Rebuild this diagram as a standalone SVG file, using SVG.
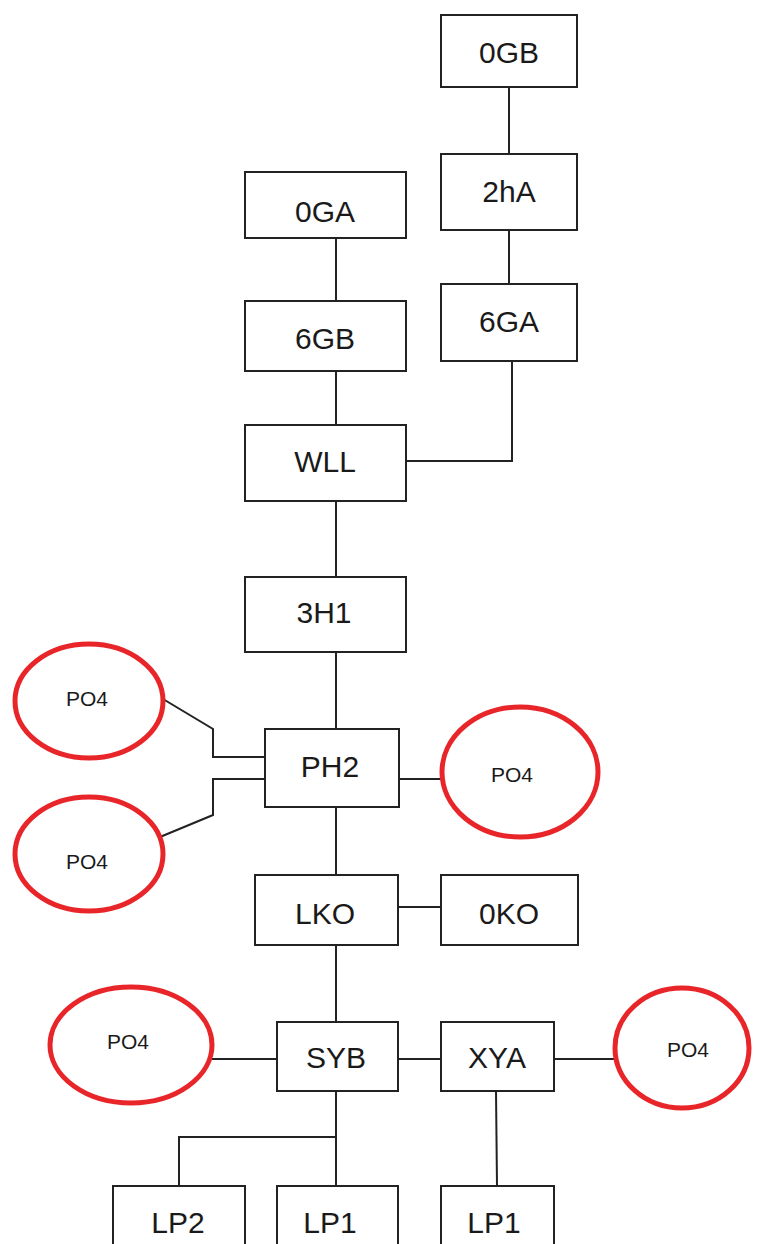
<svg xmlns="http://www.w3.org/2000/svg" width="761" height="1244" viewBox="0 0 761 1244">
<style>
.box{fill:#fff;stroke:#222;stroke-width:2}
.oval{fill:#fff;stroke:#e8262a;stroke-width:5}
.lbl{font-family:"Liberation Sans",Arial,sans-serif;font-size:30px;fill:#1a1a1a;text-anchor:middle}
.sm{font-family:"Liberation Sans",Arial,sans-serif;font-size:21px;fill:#1a1a1a;text-anchor:middle}
.conn{fill:none;stroke:#222;stroke-width:2}
</style>
<rect width="761" height="1244" fill="#fff"/>
<g id="connectors" class="conn">
<path d="M509 87V154"/>
<path d="M509 230V284"/>
<path d="M512 361V461H405"/>
<path d="M336 238V301"/>
<path d="M336 371V425"/>
<path d="M336 501V577"/>
<path d="M336 652V729"/>
<path d="M163 699L213 729V757H265"/>
<path d="M265 779H213V815L160 837"/>
<path d="M399 779H442"/>
<path d="M336 807V875"/>
<path d="M398 907H441"/>
<path d="M336 945V1022"/>
<path d="M212 1059H277"/>
<path d="M398 1059H441"/>
<path d="M554 1059H615"/>
<path d="M336 1091V1186"/>
<path d="M336 1137H179V1186"/>
<path d="M496 1091L497 1186"/>
</g>
<g id="n0GB"><rect class="box" x="441" y="15" width="136" height="72"/><text class="lbl" x="509" y="63">0GB</text></g>
<g id="n2hA"><rect class="box" x="441" y="154" width="136" height="76"/><text class="lbl" x="509" y="202">2hA</text></g>
<g id="n6GA"><rect class="box" x="441" y="284" width="136" height="77"/><text class="lbl" x="509" y="332">6GA</text></g>
<g id="n0GA"><rect class="box" x="245" y="172" width="161" height="66"/><text class="lbl" x="325" y="222">0GA</text></g>
<g id="n6GB"><rect class="box" x="245" y="301" width="161" height="70"/><text class="lbl" x="325" y="349">6GB</text></g>
<g id="nWLL"><rect class="box" x="245" y="425" width="161" height="76"/><text class="lbl" x="325" y="472">WLL</text></g>
<g id="n3H1"><rect class="box" x="245" y="577" width="161" height="75"/><text class="lbl" x="324" y="623">3H1</text></g>
<g id="nPH2"><rect class="box" x="265" y="729" width="134" height="78"/><text class="lbl" x="330" y="777">PH2</text></g>
<g id="nPO4a"><ellipse class="oval" cx="89" cy="701" rx="74" ry="57"/><text class="sm" x="87" y="706">PO4</text></g>
<g id="nPO4b"><ellipse class="oval" cx="89" cy="854" rx="74" ry="57"/><text class="sm" x="87" y="869">PO4</text></g>
<g id="nPO4c"><ellipse class="oval" cx="520" cy="772" rx="78" ry="65"/><text class="sm" x="512" y="782">PO4</text></g>
<g id="nLKO"><rect class="box" x="255" y="875" width="143" height="70"/><text class="lbl" x="325" y="924">LKO</text></g>
<g id="n0KO"><rect class="box" x="441" y="875" width="137" height="70"/><text class="lbl" x="509" y="924">0KO</text></g>
<g id="nSYB"><rect class="box" x="277" y="1022" width="121" height="69"/><text class="lbl" x="336" y="1068">SYB</text></g>
<g id="nXYA"><rect class="box" x="441" y="1022" width="113" height="69"/><text class="lbl" x="497" y="1068">XYA</text></g>
<g id="nPO4d"><ellipse class="oval" cx="131" cy="1045" rx="81" ry="58"/><text class="sm" x="128" y="1049">PO4</text></g>
<g id="nPO4e"><ellipse class="oval" cx="682" cy="1048" rx="67" ry="60"/><text class="sm" x="688" y="1057">PO4</text></g>
<g id="nLP2"><rect class="box" x="113" y="1186" width="132" height="70"/><text class="lbl" x="178" y="1233">LP2</text></g>
<g id="nLP1a"><rect class="box" x="277" y="1186" width="121" height="70"/><text class="lbl" x="330" y="1233">LP1</text></g>
<g id="nLP1b"><rect class="box" x="441" y="1186" width="113" height="70"/><text class="lbl" x="494" y="1233">LP1</text></g>
</svg>
